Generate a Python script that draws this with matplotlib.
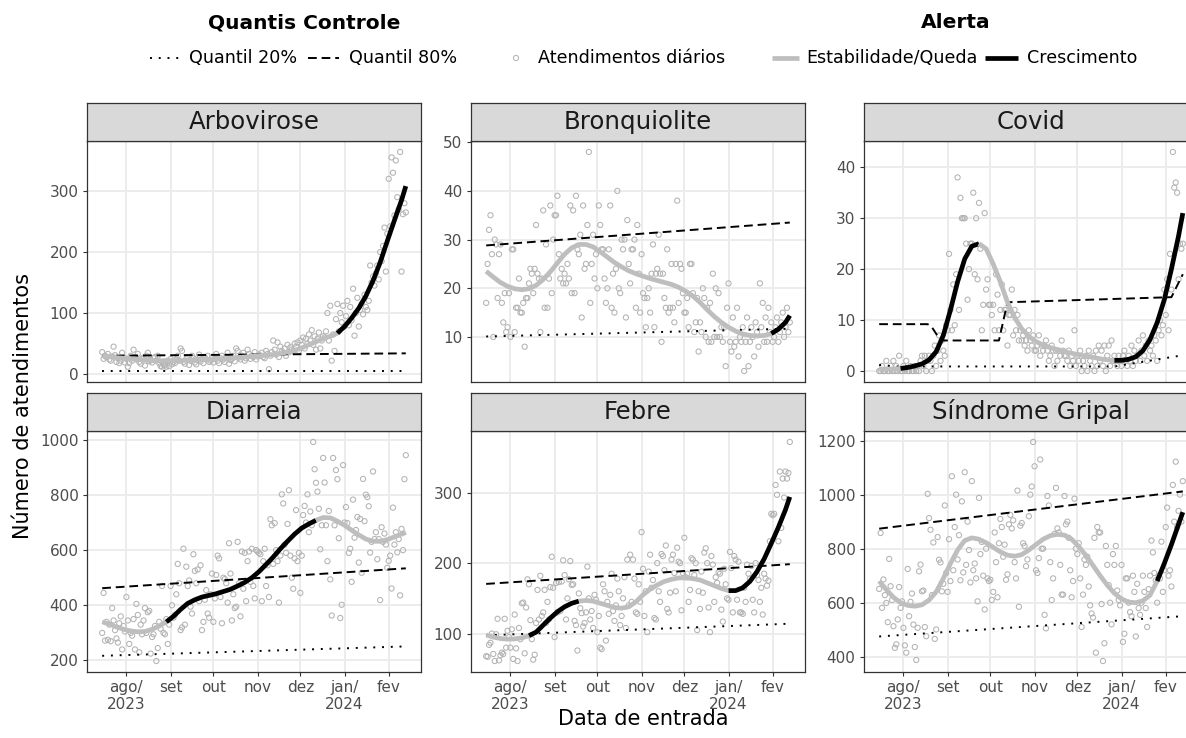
import numpy as np
import pandas as pd
import matplotlib
matplotlib.use('Agg')
import matplotlib.pyplot as plt
import matplotlib.dates as mdates
from matplotlib.ticker import MultipleLocator

# Daily visits, one value per day from 2023-07-15 to 2024-02-13
start_date = '2023-07-15'

arbovirose = [36, 25, 30, 28, 33, 24, 22, 29, 45, 31, 20, 26, 18, 22, 35, 27, 19,
              25, 12, 18, 30, 22, 40, 28, 24, 33, 20, 17, 25, 27, 14, 30, 35, 21, 23, 19, 26, 28, 22, 30, 18,
              13, 12, 15, 14, 12, 22, 13, 25, 16, 20,
              18, 24, 30, 22, 42, 38, 20, 17, 25, 28, 15, 22, 30, 26, 19, 16, 23, 32, 21, 25, 18, 27, 24, 30, 20, 22, 28, 19, 25, 33,
              22, 18, 26, 30, 24, 20, 28, 35, 17, 23, 25, 30, 21, 42, 38, 27, 24, 30, 35, 22, 26, 40, 33, 25, 30, 28, 36, 24, 29, 32,
              30, 35, 28, 26, 38, 33, 8, 30, 36, 55, 40, 32, 52, 28, 45, 38, 35, 42, 30, 48, 36, 44, 40, 38, 50,
              45, 52, 38, 55, 48, 60, 42, 58, 50, 65, 55, 72, 48, 62, 40, 58, 68, 42, 55, 62,
              60, 70, 100, 55, 112, 22, 65, 38, 90, 115, 70, 100, 85, 112, 78,
              95, 120, 80, 110, 88, 140, 63, 100, 125, 78, 105, 115, 98, 130, 110,
              105, 120, 178, 150, 160, 145, 165, 178, 155, 200, 185, 210, 240, 168, 230,
              320, 242, 355, 330, 260, 350, 290, 270, 364, 168, 262, 280, 265]

bronquiolite = [17, 25, 32, 35, 27, 10, 30, 29, 18, 27, 29, 17, 13, 19, 11, 12, 19,
                10, 28, 28, 11, 16, 16, 22, 15, 15, 17, 8, 18, 18, 21, 24, 23, 19, 24, 33, 23, 22, 11, 22, 36,
                16, 29, 16, 22, 37, 19, 30, 35, 35, 39, 27, 22, 24, 21, 23, 21, 25, 22, 37, 19, 36, 19, 39, 28, 27, 31, 14, 37, 24, 25,
                33, 48, 17, 25, 31, 22, 27, 20, 37, 33, 28, 28, 22, 17, 20, 28, 37, 16, 23, 15, 24, 40, 20, 19, 30, 28, 30, 14, 34, 25,
                21, 28, 28, 30, 16, 33, 23, 15, 27, 19, 18, 12, 18, 20, 15, 23, 29, 12, 23, 24, 31, 23, 9, 23, 18, 16, 28, 15, 16, 25,
                16, 13, 25, 38, 17, 25, 24, 19, 15, 15, 18, 12, 25, 25, 19, 11, 13, 18, 7, 13, 11, 20, 18, 10, 16, 9, 17, 9, 23, 10,
                20, 10, 19, 10, 12, 9, 12, 4, 16, 21, 9, 7, 14, 8, 9, 16, 6, 10, 9, 12, 3, 9, 14, 4, 9,
                12, 10, 6, 13, 11, 8, 21, 12, 17, 9, 14, 9, 16, 11, 13, 9, 10, 12, 14, 9, 11, 13, 15, 10, 12, 16, 11, 13]

covid = [0, 0, 1, 0, 0, 2, 0, 0, 1, 0, 2, 0, 1, 0, 3, 0, 0,
         1, 0, 2, 0, 0, 1, 0, 0, 1, 0, 1, 0, 2, 3, 1, 3, 0, 2, 3,
         2, 0, 3, 5, 1, 4, 7, 2, 6, 4, 3, 9, 8, 23, 12,
         8, 17, 9, 19, 38, 12, 34, 30, 30, 30, 25, 14, 20, 25, 25,
         35, 19, 30, 18, 33, 24, 8, 13, 31, 16, 18, 13, 13, 11, 13,
         8, 19, 15, 8, 12, 17, 8, 12, 12, 5, 11, 11, 16, 7, 12, 8, 11, 6, 8, 6,
         7, 5, 6, 4, 8, 6, 5, 7, 4, 4, 5, 7, 3, 5, 4, 5, 6, 4, 2, 3, 5, 4, 1, 4, 2, 4, 3, 6, 4, 3,
         3, 2, 4, 1, 3, 2, 8, 1, 3, 2, 4, 0, 2, 1, 3, 0, 4, 2, 1, 3, 0, 4, 1, 5, 2, 4, 1, 5, 0, 3, 5, 1, 6, 2, 3,
         2, 1, 3, 2, 1, 3, 4, 2, 1, 3, 2, 5, 1, 4, 2, 3, 6, 2, 4, 7, 3, 5, 2, 6, 4,
         5, 3, 7, 6, 2, 8, 10, 7, 9, 16, 11, 18, 8, 23, 16, 43, 36, 37, 35, 18, 25, 24, 25]

diarreia = [300, 445, 272, 340, 275, 330, 270, 390, 345, 310, 280, 265, 335, 360, 240, 325, 305,
            430, 345, 260, 300, 290, 350, 240, 405, 365, 230, 330, 295, 345, 390, 300, 375, 380, 225, 285, 295,
            325, 198, 245, 340, 315, 470, 300, 295, 350, 260, 330,
            470, 400, 355, 365, 440, 550, 480, 310, 320, 605, 330, 540, 470, 490, 395, 370, 585, 525, 480, 530,
            415, 545, 310, 340, 420, 455, 370, 355, 440, 515,
            340, 425, 510, 580, 570, 430, 335, 500, 495, 480, 410, 625, 515, 345, 440, 390, 395, 630, 480, 360,
            595, 460, 590, 415, 560, 595, 485, 605, 470, 425, 600,
            595, 590, 585, 415, 560, 605, 470, 545, 430, 712, 690, 550, 698, 600, 560, 410, 580, 802, 769, 620,
            590, 695, 817, 580, 500, 460, 570, 745, 560, 590,
            445, 580, 727, 760, 700, 802, 665, 740, 690, 992, 893, 844, 812, 750, 603, 690, 934, 845, 690, 560,
            742, 494, 363, 934, 690, 890, 857, 643, 354, 402, 908,
            700, 756, 698, 590, 605, 485, 783, 645, 673, 720, 555, 713, 518, 858, 705, 801, 792, 759, 591, 630,
            885, 640, 665, 567, 640, 419, 683, 630, 660, 620, 536,
            561, 580, 461, 754, 620, 665, 592, 640, 436, 677, 600, 857, 944]

febre = [68, 67, 84, 87, 100, 71, 61, 99, 121, 62, 69, 73, 71, 121, 80, 104, 95,
         80, 106, 64, 127, 79, 61, 108, 92, 143, 144, 72, 137, 177, 170, 119, 92,
         63, 70, 115, 162, 120, 182, 125, 130, 162, 115, 145, 120, 166, 209, 165, 95, 172, 130,
         173, 132, 174, 204, 183, 120, 150, 177, 203, 169, 170, 118, 112, 76, 157, 136, 129, 110, 115, 130,
         195, 150, 120, 132, 108, 155, 148, 102, 125, 80, 78, 170, 160, 90, 145, 128, 155, 185, 132, 118,
         140, 178, 160, 112, 125, 150, 180, 108, 205, 140,
         212, 145, 205, 178, 130, 128, 170, 145, 244, 192, 125, 160, 102, 188, 212, 165, 176, 122, 120, 200,
         160, 145, 213, 210, 190, 225, 135, 130, 158, 205,
         212, 186, 160, 222, 202, 200, 133, 186, 236, 180, 185, 145, 162, 207, 205, 183, 200, 105, 160, 135,
         188, 158, 215, 221, 200, 137, 102, 210, 198, 145,
         180, 172, 187, 185, 134, 117, 192, 170, 150, 148, 216, 193, 130, 210, 205, 148, 202, 130, 130, 128,
         165, 145, 198, 185, 178,
         196, 148, 130, 200, 183, 176, 145, 165, 127, 185, 178, 168, 175, 231, 270,
         268, 270, 311, 297, 231, 330, 250, 320, 293, 330, 320, 328, 372]

sindrome_gripal = [651, 858, 581, 686, 628, 599, 528, 762, 661, 610, 513, 433, 446, 538, 658, 581, 605,
                   507, 442, 415, 725, 550, 603, 634, 519, 436, 388, 507, 716, 741, 642, 645, 510, 476, 1003, 913, 870,
                   628, 823, 466, 501,
                   843, 759, 749, 642, 670, 960, 710, 640, 835, 680, 1068, 720, 880, 1000, 760, 850, 683, 975, 712, 1083,
                   740, 900, 795, 675, 1050, 720, 745, 690, 605, 988,
                   780, 825, 700, 575, 800, 690, 680, 685, 610, 640, 860, 750, 620, 820, 910, 880, 770, 815, 685, 705,
                   890, 925, 875, 905, 750, 690, 1015, 585, 885, 895,
                   820, 810, 735, 760, 920, 1000, 1030, 1195, 1105, 720, 710, 765, 1130, 800, 800, 555, 505, 995, 960, 750,
                   610, 690, 855, 1025, 875, 860, 740, 630, 630, 995,
                   890, 900, 840, 720, 620, 680, 985, 800, 780, 820, 690, 510, 630, 760, 740, 770, 660, 590, 560, 545,
                   840, 415, 880, 860, 860, 595, 384, 450, 810, 740,
                   665, 600, 520, 780, 740, 810, 645, 610, 590, 740, 455, 485, 690, 690, 600, 565, 550, 700, 640, 475,
                   670, 580, 555, 600, 700,
                   640, 580, 510, 650, 700, 830, 786, 710, 683, 600, 700, 690, 826, 640, 720,
                   880, 952, 700, 720, 660, 1036, 900, 1122, 880, 940, 1000, 900, 1050]

# Smoothed trend, sampled every 5 days (days counted from start_date)
knot_days = list(range(0, 211, 5)) + [213]

arbovirose_trend = [30, 29, 27, 26, 25, 24, 23, 22, 22, 22, 22, 22, 23, 23, 24, 24, 25, 25, 26, 27,
                    28, 29, 30, 31, 32, 34, 36, 39, 43, 48, 53, 58, 62, 67, 78, 92, 108, 128, 153, 183,
                    218, 252, 285, 308]
bronquiolite_trend = [23.5, 22.3, 21.2, 20.4, 19.9, 19.7, 19.9, 20.6, 21.8, 23.4, 25.2, 27, 28.3, 29, 29,
                      28.5, 27.5, 26.4, 25.3, 24.4, 23.6, 23, 22.5, 22, 21.6, 21.2, 20.8, 20.2, 19.4, 18.4,
                      17.1, 15.6, 14.2, 13, 12, 11.2, 10.6, 10.3, 10.2, 10.3, 10.7, 11.6, 13, 14.4]
covid_trend = [0.4, 0.4, 0.4, 0.5, 0.7, 1.0, 1.4, 2.2, 3.8, 7.0, 12, 17.5, 22, 24.5, 25,
               24, 21, 17.5, 13.5, 10.5, 8.3, 6.8, 5.8, 5.1, 4.6, 4.2, 3.8, 3.5, 3.2, 2.9,
               2.7, 2.4, 2.2, 2.1, 2.1, 2.3, 2.8, 4.0, 6.2, 9.5, 14, 20, 26.5, 31]
diarreia_trend = [340, 332, 322, 313, 307, 304, 305, 313, 325, 340, 360, 385, 407, 420, 430,
                  436, 442, 450, 458, 470, 483, 500, 522, 548, 575, 605, 632, 658, 680, 695,
                  708, 718, 717, 705, 690, 672, 655, 640, 632, 632, 638, 648, 658, 664]
febre_trend = [98, 95, 93, 92, 92.5, 94, 97, 102, 112, 122, 131, 138, 143, 146, 147,
               146, 143, 140, 137, 136, 138, 145, 155, 163, 169, 174, 177, 179, 179, 178,
               176, 172, 168, 164, 161, 161, 165, 174, 188, 206, 228, 251, 276, 294]
sindrome_gripal_trend = [680, 648, 620, 600, 590, 587, 592, 610, 640, 690, 745, 795, 830, 840, 835,
                         822, 805, 788, 776, 772, 778, 795, 815, 835, 848, 853, 850, 835, 808, 775,
                         738, 700, 665, 635, 614, 602, 600, 607, 628, 680, 745, 815, 890, 935]

# Day ranges flagged as growth ("Crescimento")
arbovirose_growth = [(165, 213)]
bronquiolite_growth = [(200, 213)]
covid_growth = [(15, 70), (165, 213)]
diarreia_growth = [(45, 150)]
febre_growth = [(30, 65), (170, 213)]
sindrome_gripal_growth = [(195, 213)]

# Control quantiles as (days, values)
arbovirose_q20 = ([0, 213], [5, 5])
arbovirose_q80 = ([0, 213], [30, 34])
bronquiolite_q20 = ([0, 213], [10.1, 11.7])
bronquiolite_q80 = ([0, 213], [28.8, 33.5])
covid_q20 = ([0, 10, 165, 213], [1.2, 0.9, 0.9, 3.1])
covid_q80 = ([0, 34, 37, 43, 84, 90, 205, 213], [9.2, 9.2, 8.6, 6.0, 6.0, 13.5, 14.5, 19.0])
diarreia_q20 = ([0, 213], [217, 251])
diarreia_q80 = ([0, 213], [462, 534])
febre_q20 = ([0, 213], [97.5, 114])
febre_q80 = ([0, 213], [170.5, 198.5])
sindrome_gripal_q20 = ([0, 213], [475, 550])
sindrome_gripal_q80 = ([0, 213], [874, 1012])

panel_names = ['Arbovirose', 'Bronquiolite', 'Covid', 'Diarreia', 'Febre', 'Síndrome Gripal']
panel_points = [arbovirose, bronquiolite, covid, diarreia, febre, sindrome_gripal]
panel_trends = [arbovirose_trend, bronquiolite_trend, covid_trend, diarreia_trend, febre_trend, sindrome_gripal_trend]
panel_growth = [arbovirose_growth, bronquiolite_growth, covid_growth, diarreia_growth, febre_growth, sindrome_gripal_growth]
panel_q20 = [arbovirose_q20, bronquiolite_q20, covid_q20, diarreia_q20, febre_q20, sindrome_gripal_q20]
panel_q80 = [arbovirose_q80, bronquiolite_q80, covid_q80, diarreia_q80, febre_q80, sindrome_gripal_q80]
y_steps = [100, 10, 10, 200, 100, 200]

month_ticks = ['2023-08-01', '2023-09-01', '2023-10-01', '2023-11-01', '2023-12-01', '2024-01-01', '2024-02-01']
month_labels = ['ago/\n2023', 'set', 'out', 'nov', 'dez', 'jan/\n2024', 'fev']

GREY_PT = '#B3B3B3'
GREY_LINE = '#BEBEBE'
DARK = '#333333'
TICK_TXT = '#4D4D4D'

W, H = 1186, 738
fig = plt.figure(figsize=(W / 100, H / 100), dpi=100)


def rect(left, top, right, bottom):
    return [left / W, 1 - bottom / H, (right - left) / W, (bottom - top) / H]


def to_num(days):
    d0 = pd.Timestamp(start_date)
    return mdates.date2num([d0 + pd.Timedelta(days=int(d)) for d in days])


dq20 = dict(color='black', lw=1.4, linestyle=(0, (1, 3.5)), zorder=3)
dq80 = dict(color='black', lw=1.4, linestyle=(0, (4.5, 2.5)), zorder=3)

col_left = [87, 471, 864]
panel_w = 334
rows = [(103, 141, 382), (393, 431, 672)]

n_days = len(arbovirose)
x_days = to_num(range(n_days))
span = x_days[-1] - x_days[0]
xlim = (x_days[0] - 0.05 * span, x_days[-1] + 0.05 * span)
tick_x = mdates.date2num(pd.to_datetime(month_ticks))
knot_x = to_num(knot_days)

for i, name in enumerate(panel_names):
    r, c = divmod(i, 3)
    strip_top, top, bottom = rows[r]
    left = col_left[c]
    right = left + panel_w

    ax = fig.add_axes(rect(left, top, right, bottom))
    sax = fig.add_axes(rect(left, strip_top, right, top))

    pts = panel_points[i]
    trend = panel_trends[i]
    q20d, q20v = panel_q20[i]
    q80d, q80v = panel_q80[i]

    ax.scatter(x_days, pts, s=14, facecolors='none', edgecolors=GREY_PT, linewidths=0.75, zorder=2)
    ax.plot(to_num(q20d), q20v, **dq20)
    ax.plot(to_num(q80d), q80v, **dq80)

    # split trend into grey / black runs
    flags = []
    for k in range(len(knot_days) - 1):
        a, b = knot_days[k], knot_days[k + 1]
        flags.append(any(s <= a and b <= e for s, e in panel_growth[i]))
    k = 0
    while k < len(flags):
        j = k
        while j + 1 < len(flags) and flags[j + 1] == flags[k]:
            j += 1
        ax.plot(knot_x[k:j + 2], trend[k:j + 2], color='black' if flags[k] else GREY_LINE,
                lw=3.4, solid_capstyle='butt', solid_joinstyle='round', zorder=4)
        k = j + 1

    allv = list(pts) + list(trend) + list(q20v) + list(q80v)
    lo, hi = min(allv), max(allv)
    ax.set_ylim(lo - 0.05 * (hi - lo), hi + 0.05 * (hi - lo))
    ax.set_xlim(xlim)
    ax.yaxis.set_major_locator(MultipleLocator(y_steps[i]))
    ax.set_xticks(tick_x)
    if r == 1:
        ax.set_xticklabels(month_labels)
        ax.tick_params(axis='x', length=3, width=0.8, color=DARK, pad=2.5,
                       labelsize=11, labelcolor=TICK_TXT)
    else:
        ax.set_xticklabels([])
        ax.tick_params(axis='x', length=0)
    ax.tick_params(axis='y', length=3, width=0.8, color=DARK, pad=3.2,
                   labelsize=11, labelcolor=TICK_TXT)
    ax.grid(True, color='#EBEBEB', lw=1.3)
    ax.set_axisbelow(True)
    for sp in ax.spines.values():
        sp.set_color(DARK)
        sp.set_linewidth(0.9)

    sax.set_facecolor('#D9D9D9')
    sax.set_xticks([])
    sax.set_yticks([])
    for sp in sax.spines.values():
        sp.set_color(DARK)
        sp.set_linewidth(0.9)
    sax.text(0.5, 0.5, name, ha='center', va='center', fontsize=17.6,
             color='#1A1A1A', transform=sax.transAxes)

fig.text(23 / W, 1 - 406 / H, 'Número de atendimentos', rotation=90,
         ha='center', va='center', fontsize=15)
fig.text(643 / W, 1 - 719 / H, 'Data de entrada', ha='center', va='center', fontsize=15)

# legend row drawn on an overlay axis in pixel units
lax = fig.add_axes([0, 0, 1, 1])
lax.set_xlim(0, W)
lax.set_ylim(H, 0)
lax.axis('off')
ky = 58
lax.text(304, 23, 'Quantis Controle', ha='center', va='center', fontsize=14.5, fontweight='bold')
lax.text(956, 23, 'Alerta', ha='center', va='center', fontsize=14.5, fontweight='bold')
lax.plot([150, 180], [ky, ky], **dq20)
lax.text(189, ky, 'Quantil 20%', va='center', fontsize=12.6)
lax.plot([308, 339], [ky, ky], **dq80)
lax.text(349, ky, 'Quantil 80%', va='center', fontsize=12.6)
lax.scatter([516], [ky], s=14, facecolors='none', edgecolors=GREY_PT, linewidths=0.75)
lax.text(538, ky, 'Atendimentos diários', va='center', fontsize=12.6)
lax.plot([772, 799], [ky, ky], color=GREY_LINE, lw=3.4, solid_capstyle='butt')
lax.text(806, ky, 'Estabilidade/Queda', va='center', fontsize=12.6)
lax.plot([985, 1018], [ky, ky], color='black', lw=3.4, solid_capstyle='butt')
lax.text(1027, ky, 'Crescimento', va='center', fontsize=12.6)

fig.savefig('out.png', dpi=100)
